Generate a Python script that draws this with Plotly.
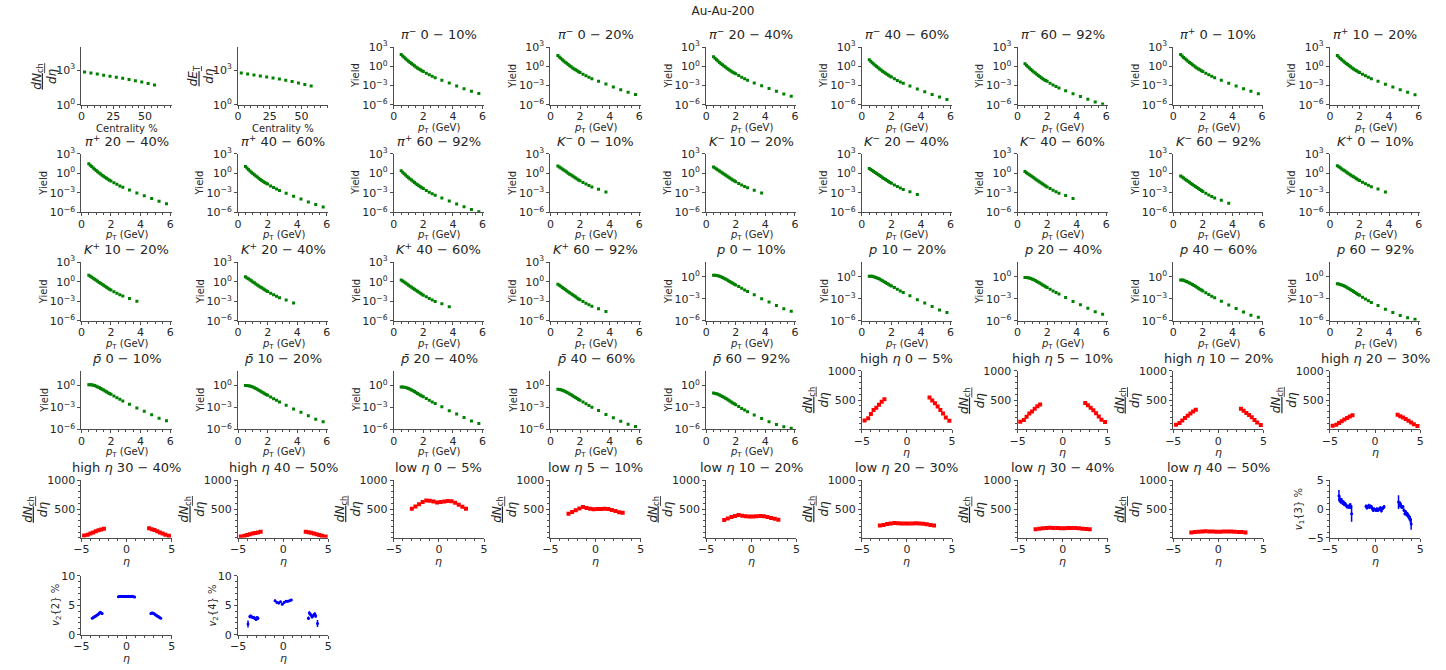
import plotly.graph_objects as go

# ---------------------------------------------------------------- data
centrality = [2.5, 7.5, 12.5, 17.5, 22.5, 27.5, 32.5, 37.5, 42.5, 47.5, 52.5, 57.5]
dnch_deta = [687, 560, 457, 372, 302, 246, 197, 156, 124, 95, 71, 52]
det_deta = [560, 470, 390, 320, 262, 211, 168, 132, 102, 78, 58, 42]

pt_pi = [0.5, 0.6, 0.7, 0.8, 0.9, 1.0, 1.1, 1.2, 1.3, 1.4, 1.5, 1.6, 1.7, 1.8, 1.9, 2.0,
         2.2, 2.4, 2.6, 2.8, 3.25, 3.75, 4.25, 4.75, 5.25, 5.75]
pt_k = [0.5, 0.6, 0.7, 0.8, 0.9, 1.0, 1.1, 1.2, 1.3, 1.4, 1.5, 1.6, 1.7, 1.8, 1.9, 2.0,
        2.2, 2.4, 2.6, 2.8, 3.25, 3.75]
pt_p = [0.5, 0.6, 0.7, 0.8, 0.9, 1.0, 1.1, 1.2, 1.3, 1.4, 1.5, 1.6, 1.7, 1.8, 1.9, 2.0,
        2.2, 2.4, 2.6, 2.8, 3.25, 3.75, 4.25, 4.75, 5.25, 5.75]

pim_0_10 = [71, 42, 25, 15.5, 9.8, 6.3, 4.1, 2.7, 1.8, 1.2, 0.81, 0.56, 0.40, 0.28, 0.21, 0.16,
            0.085, 0.048, 0.028, 0.017, 6.6e-3, 2.4e-3, 8.9e-4, 3.3e-4, 1.3e-4, 5.6e-5]
pim_10_20 = [50, 29, 17.5, 10.8, 6.9, 4.4, 2.9, 1.9, 1.26, 0.84, 0.57, 0.39, 0.28, 0.20, 0.147, 0.112,
             0.060, 0.034, 0.0196, 0.0119, 4.6e-3, 1.7e-3, 6.2e-4, 2.3e-4, 9.1e-5, 3.9e-5]
pim_20_40 = [30, 17.6, 10.5, 6.5, 4.1, 2.6, 1.7, 1.13, 0.76, 0.50, 0.34, 0.235, 0.168, 0.118, 0.088, 0.067,
             0.036, 0.020, 0.0116, 7.0e-3, 2.6e-3, 9.5e-4, 3.5e-4, 1.3e-4, 5.0e-5, 2.1e-5]
pim_40_60 = [10.6, 6.3, 3.75, 2.3, 1.45, 0.93, 0.60, 0.39, 0.26, 0.17, 0.115, 0.080, 0.056, 0.039, 0.029, 0.022,
             0.0115, 6.4e-3, 3.7e-3, 2.2e-3, 8.3e-4, 3.0e-4, 1.1e-4, 4.1e-5, 1.6e-5, 6.8e-6]
pim_60_92 = [2.5, 1.47, 0.87, 0.53, 0.33, 0.21, 0.135, 0.088, 0.058, 0.038, 0.025, 0.0172, 0.0120, 8.3e-3, 6.1e-3, 4.5e-3,
             2.3e-3, 1.27e-3, 7.2e-4, 4.2e-4, 1.55e-4, 5.5e-5, 2.0e-5, 7.3e-6, 2.8e-6, 1.3e-6]

pip_0_10 = [69, 41, 24.5, 15.2, 9.6, 6.2, 4.0, 2.65, 1.77, 1.18, 0.80, 0.55, 0.39, 0.28, 0.205, 0.155,
            0.083, 0.047, 0.0275, 0.0167, 6.5e-3, 2.35e-3, 8.7e-4, 3.2e-4, 1.25e-4, 5.3e-5]
pip_10_20 = [49, 28.5, 17.2, 10.6, 6.8, 4.3, 2.85, 1.86, 1.24, 0.83, 0.56, 0.385, 0.275, 0.196, 0.144, 0.11,
             0.059, 0.0335, 0.0193, 0.0117, 4.5e-3, 1.65e-3, 6.1e-4, 2.25e-4, 8.8e-5, 3.7e-5]
pip_20_40 = [29.5, 17.3, 10.3, 6.4, 4.0, 2.55, 1.67, 1.11, 0.75, 0.49, 0.335, 0.23, 0.165, 0.116, 0.086, 0.066,
             0.0355, 0.0197, 0.0114, 6.9e-3, 2.55e-3, 9.3e-4, 3.4e-4, 1.27e-4, 4.9e-5, 2.0e-5]
pip_40_60 = [10.4, 6.2, 3.7, 2.25, 1.43, 0.91, 0.59, 0.385, 0.255, 0.168, 0.113, 0.079, 0.055, 0.0385, 0.0285, 0.0217,
             0.0113, 6.3e-3, 3.65e-3, 2.15e-3, 8.1e-4, 2.95e-4, 1.08e-4, 4.0e-5, 1.55e-5, 6.5e-6]
pip_60_92 = [2.45, 1.44, 0.85, 0.52, 0.325, 0.205, 0.133, 0.087, 0.057, 0.0375, 0.0247, 0.017, 0.0118, 8.2e-3, 6.0e-3, 4.4e-3,
             2.25e-3, 1.25e-3, 7.1e-4, 4.1e-4, 1.52e-4, 5.4e-5, 1.95e-5, 7.1e-6, 2.7e-6, 1.25e-6]

km_0_10 = [12.6, 8.7, 6.2, 4.3, 3.0, 2.1, 1.48, 1.02, 0.72, 0.51, 0.36, 0.26, 0.18, 0.129, 0.093, 0.068,
           0.038, 0.022, 0.0129, 7.9e-3, 3.5e-3, 1.26e-3]
km_10_20 = [9.1, 6.3, 4.5, 3.1, 2.2, 1.5, 1.07, 0.73, 0.52, 0.37, 0.26, 0.19, 0.13, 0.093, 0.067, 0.049,
            0.027, 0.016, 9.3e-3, 5.7e-3, 2.5e-3, 9.1e-4]
km_20_40 = [5.3, 3.65, 2.6, 1.8, 1.26, 0.88, 0.62, 0.43, 0.30, 0.21, 0.15, 0.109, 0.076, 0.054, 0.039, 0.0285,
            0.016, 9.2e-3, 5.4e-3, 3.3e-3, 1.47e-3, 5.3e-4]
km_40_60 = [1.76, 1.2, 0.85, 0.58, 0.40, 0.28, 0.195, 0.133, 0.092, 0.064, 0.045, 0.032, 0.0222, 0.0156, 0.0111, 8.0e-3,
            4.4e-3, 2.5e-3, 1.45e-3, 8.8e-4, 3.8e-4, 1.35e-4]
km_60_92 = [0.38, 0.26, 0.18, 0.122, 0.084, 0.058, 0.040, 0.027, 0.0186, 0.0129, 9.0e-3, 6.3e-3, 4.4e-3, 3.05e-3, 2.15e-3, 1.54e-3,
            8.3e-4, 4.7e-4, 2.7e-4, 1.6e-4, 6.8e-5, 2.4e-5]

kp_0_10 = [13.6, 9.4, 6.7, 4.6, 3.2, 2.3, 1.6, 1.1, 0.78, 0.55, 0.39, 0.28, 0.195, 0.139, 0.10, 0.073,
           0.041, 0.024, 0.0139, 8.5e-3, 3.8e-3, 1.36e-3]
kp_10_20 = [9.8, 6.8, 4.9, 3.35, 2.4, 1.62, 1.16, 0.79, 0.56, 0.40, 0.28, 0.205, 0.14, 0.10, 0.072, 0.053,
            0.029, 0.017, 0.010, 6.2e-3, 2.7e-3, 9.8e-4]
kp_20_40 = [5.7, 3.9, 2.8, 1.95, 1.36, 0.95, 0.67, 0.46, 0.32, 0.23, 0.16, 0.118, 0.082, 0.058, 0.042, 0.031,
            0.0173, 9.9e-3, 5.8e-3, 3.6e-3, 1.6e-3, 5.7e-4]
kp_40_60 = [1.9, 1.3, 0.92, 0.63, 0.43, 0.30, 0.21, 0.144, 0.10, 0.069, 0.049, 0.0345, 0.024, 0.0168, 0.012, 8.6e-3,
            4.8e-3, 2.7e-3, 1.57e-3, 9.5e-4, 4.1e-4, 1.46e-4]
kp_60_92 = [0.41, 0.28, 0.195, 0.132, 0.091, 0.063, 0.043, 0.029, 0.020, 0.0139, 9.7e-3, 6.8e-3, 4.75e-3, 3.3e-3, 2.3e-3, 1.66e-3,
            9.0e-4, 5.1e-4, 2.9e-4, 1.73e-4, 7.3e-5, 2.6e-5]

p_0_10 = [1.66, 1.66, 1.58, 1.41, 1.23, 1.02, 0.83, 0.66, 0.51, 0.40, 0.30, 0.23, 0.174, 0.132, 0.100, 0.079,
          0.047, 0.0275, 0.0166, 0.010, 3.6e-3, 1.05e-3, 3.8e-4, 1.26e-4, 4.4e-5, 2.0e-5]
p_10_20 = [1.25, 1.25, 1.18, 1.05, 0.91, 0.76, 0.61, 0.49, 0.38, 0.295, 0.22, 0.17, 0.128, 0.097, 0.073, 0.058,
           0.034, 0.020, 0.012, 7.3e-3, 2.6e-3, 7.6e-4, 2.7e-4, 9.0e-5, 3.1e-5, 1.4e-5]
p_20_40 = [0.82, 0.81, 0.76, 0.67, 0.58, 0.48, 0.39, 0.31, 0.24, 0.185, 0.14, 0.106, 0.08, 0.06, 0.045, 0.036,
           0.021, 0.0122, 7.3e-3, 4.4e-3, 1.55e-3, 4.5e-4, 1.6e-4, 5.2e-5, 1.8e-5, 8.0e-6]
p_40_60 = [0.38, 0.36, 0.33, 0.28, 0.235, 0.19, 0.15, 0.117, 0.089, 0.068, 0.051, 0.038, 0.028, 0.021, 0.0155, 0.012,
           6.8e-3, 3.9e-3, 2.3e-3, 1.37e-3, 4.8e-4, 1.4e-4, 4.8e-5, 1.6e-5, 6.0e-6, 3.0e-6]
p_60_92 = [0.115, 0.105, 0.092, 0.078, 0.064, 0.051, 0.040, 0.031, 0.0235, 0.0178, 0.0133, 9.8e-3, 7.2e-3, 5.3e-3, 3.9e-3, 3.0e-3,
           1.68e-3, 9.5e-4, 5.5e-4, 3.2e-4, 1.2e-4, 3.8e-5, 1.4e-5, 5.5e-6, 2.6e-6, 1.6e-6]

pbar_0_10 = [1.25, 1.25, 1.19, 1.06, 0.92, 0.77, 0.62, 0.50, 0.38, 0.30, 0.225, 0.17, 0.13, 0.099, 0.075, 0.059,
             0.035, 0.0205, 0.0124, 7.5e-3, 2.7e-3, 7.9e-4, 2.9e-4, 9.5e-5, 3.3e-5, 1.5e-5]
pbar_10_20 = [0.94, 0.94, 0.89, 0.79, 0.69, 0.58, 0.47, 0.37, 0.29, 0.22, 0.167, 0.128, 0.097, 0.074, 0.056, 0.044,
              0.026, 0.0152, 9.1e-3, 5.5e-3, 2.0e-3, 5.8e-4, 2.1e-4, 6.9e-5, 2.4e-5, 1.1e-5]
pbar_20_40 = [0.62, 0.61, 0.57, 0.51, 0.44, 0.36, 0.29, 0.23, 0.18, 0.14, 0.105, 0.080, 0.060, 0.045, 0.034, 0.027,
              0.016, 9.2e-3, 5.5e-3, 3.3e-3, 1.2e-3, 3.4e-4, 1.2e-4, 4.0e-5, 1.4e-5, 6.2e-6]
pbar_40_60 = [0.29, 0.27, 0.25, 0.21, 0.18, 0.145, 0.114, 0.089, 0.068, 0.052, 0.039, 0.029, 0.0215, 0.016, 0.0118, 9.1e-3,
              5.2e-3, 3.0e-3, 1.75e-3, 1.04e-3, 3.7e-4, 1.1e-4, 3.7e-5, 1.25e-5, 4.8e-6, 2.4e-6]
pbar_60_92 = [0.088, 0.080, 0.070, 0.059, 0.049, 0.039, 0.030, 0.0235, 0.018, 0.0135, 0.0101, 7.5e-3, 5.5e-3, 4.0e-3, 3.0e-3, 2.3e-3,
              1.28e-3, 7.2e-4, 4.2e-4, 2.45e-4, 9.0e-5, 3.0e-5, 1.1e-5, 4.5e-6, 2.2e-6, 1.4e-6]

eta_high = [-4.7, -4.3, -4.0, -3.7, -3.4, -3.1, -2.8, -2.5, 2.5, 2.8, 3.1, 3.4, 3.7, 4.0, 4.3, 4.7]
high_0_5 = [150, 190, 260, 330, 370, 420, 470, 515, 545, 490, 445, 390, 330, 270, 200, 145]
high_5_10 = [128, 160, 215, 270, 305, 350, 395, 425, 450, 410, 370, 325, 275, 220, 165, 125]
high_10_20 = [80, 110, 150, 195, 230, 270, 305, 335, 350, 315, 280, 245, 205, 160, 115, 75]
high_20_30 = [60, 80, 110, 140, 170, 195, 220, 240, 250, 225, 200, 175, 145, 115, 85, 55]
high_30_40 = [40, 55, 75, 95, 115, 130, 145, 160, 165, 150, 135, 115, 95, 75, 55, 38]
high_40_50 = [25, 35, 48, 62, 75, 85, 95, 105, 108, 98, 88, 76, 62, 48, 35, 24]

eta_low = [-3.0, -2.6, -2.2, -1.8, -1.4, -1.0, -0.6, -0.2, 0.2, 0.6, 1.0, 1.4, 1.8, 2.2, 2.6, 3.0]
low_0_5 = [505, 545, 585, 620, 650, 645, 630, 615, 620, 630, 640, 635, 610, 575, 540, 505]
low_5_10 = [420, 450, 480, 510, 535, 520, 505, 495, 500, 500, 505, 500, 485, 465, 445, 435]
low_10_20 = [310, 335, 360, 380, 395, 385, 375, 370, 370, 375, 380, 375, 360, 345, 330, 315]
low_20_30 = [215, 225, 240, 250, 258, 255, 250, 247, 247, 250, 253, 250, 243, 235, 225, 215]
low_30_40 = [150, 158, 165, 170, 175, 173, 170, 168, 168, 170, 172, 170, 165, 160, 155, 148]
low_40_50 = [95, 100, 105, 110, 113, 112, 110, 108, 108, 110, 111, 110, 107, 103, 100, 95]

v1_eta = [-4.0, -3.9, -3.8, -3.7, -3.6, -3.5, -3.4, -3.3, -3.2, -3.1, -3.0, -2.9, -2.8, -2.7, -2.6,
          -1.0, -0.9, -0.8, -0.7, -0.6, -0.5, -0.4, -0.3, -0.2, -0.1, 0.0, 0.1, 0.2, 0.3, 0.4, 0.5, 0.6, 0.7, 0.8, 0.9, 1.0,
          2.6, 2.7, 2.8, 2.9, 3.0, 3.1, 3.2, 3.3, 3.4, 3.5, 3.6, 3.7, 3.8, 3.9, 4.0]
v1_3 = [2.3, 1.7, 1.4, 1.5, 1.1, 1.2, 0.8, 0.9, 0.6, 0.4, 0.5, 0.3, 0.6, 0.5, -0.8,
        0.5, 0.2, 0.4, 0.6, 0.3, 0.5, 0.4, 0.1, -0.2, 0.0, -0.1, -0.2, 0.0, -0.2, -0.1, 0.1, 0.2, -0.3, 0.1, 0.2, 0.4,
        1.2, 0.8, 0.9, 0.5, 0.3, 0.4, -0.2, -0.8, -0.5, -1.0, -0.9, -1.3, -1.5, -1.8, -2.6]
v1_3_err = [1.0, 0.6, 0.5, 0.4, 0.4, 0.3, 0.3, 0.3, 0.3, 0.3, 0.3, 0.3, 0.4, 0.5, 1.4,
            0.3, 0.3, 0.3, 0.3, 0.3, 0.3, 0.3, 0.3, 0.3, 0.3, 0.3, 0.3, 0.3, 0.3, 0.3, 0.3, 0.3, 0.3, 0.3, 0.3, 0.3,
            1.2, 0.5, 0.4, 0.4, 0.3, 0.3, 0.3, 0.3, 0.3, 0.3, 0.4, 0.4, 0.5, 0.6, 1.0]

v22_eta = [-3.8, -3.7, -3.6, -3.5, -3.4, -3.3, -3.2, -3.1, -3.0, -2.9, -2.8, -2.7,
           -0.9, -0.8, -0.7, -0.6, -0.5, -0.4, -0.3, -0.2, -0.1, 0.0, 0.1, 0.2, 0.3, 0.4, 0.5, 0.6, 0.7, 0.8, 0.9,
           2.7, 2.8, 2.9, 3.0, 3.1, 3.2, 3.3, 3.4, 3.5, 3.6, 3.7, 3.8]
v2_2 = [2.8, 2.9, 3.0, 3.1, 3.2, 3.3, 3.4, 3.5, 3.7, 3.8, 3.7, 3.6,
        6.45, 6.5, 6.5, 6.5, 6.55, 6.5, 6.5, 6.5, 6.5, 6.5, 6.5, 6.55, 6.5, 6.5, 6.5, 6.55, 6.5, 6.45, 6.4,
        3.6, 3.7, 3.7, 3.6, 3.5, 3.4, 3.3, 3.2, 3.1, 3.0, 2.9, 2.8]
v2_2_err = [0.15] * 43

v24_eta = [-3.9, -3.7, -3.6, -3.5, -3.4, -3.3, -3.2, -3.1, -3.0, -2.9, -2.8,
           -0.9, -0.7, -0.5, -0.3, -0.1, 0.1, 0.3, 0.5, 0.7, 0.9,
           2.8, 2.9, 3.0, 3.1, 3.2, 3.3, 3.4, 3.5, 3.6, 3.8]
v2_4 = [1.8, 3.1, 3.2, 3.0, 3.0, 2.9, 2.9, 2.7, 2.6, 2.9, 2.8,
        5.8, 5.5, 5.4, 5.6, 5.2, 5.5, 5.7, 5.7, 5.8, 5.9,
        2.8, 3.7, 3.5, 3.3, 3.0, 3.2, 3.4, 3.5, 3.2, 1.9]
v2_4_err = [0.6, 0.3, 0.2, 0.2, 0.2, 0.2, 0.2, 0.2, 0.2, 0.3, 0.3,
            0.2, 0.2, 0.2, 0.2, 0.2, 0.2, 0.2, 0.2, 0.2, 0.2,
            0.3, 0.3, 0.2, 0.2, 0.2, 0.2, 0.2, 0.3, 0.3, 0.6]

# ---------------------------------------------------------------- panels
def t(sym, cent):
    a, b = cent
    return f"{sym} {a} − {b}%"

PIM = "<i>π</i><sup>−</sup>"
PIP = "<i>π</i><sup>+</sup>"
KM = "<i>K</i><sup>−</sup>"
KP = "<i>K</i><sup>+</sup>"
PR = "<i>p</i>"
PB = "<i>p̄</i>"
HE = "high <i>η</i>"
LE = "low <i>η</i>"

panels = [
    ("cent", None, centrality, dnch_deta, None, "nch"),
    ("cent", None, centrality, det_deta, None, "et"),
    ("yield", t(PIM, (0, 10)), pt_pi, pim_0_10, None, None),
    ("yield", t(PIM, (0, 20)), pt_pi, pim_10_20, None, None),
    ("yield", t(PIM, (20, 40)), pt_pi, pim_20_40, None, None),
    ("yield", t(PIM, (40, 60)), pt_pi, pim_40_60, None, None),
    ("yield", t(PIM, (60, 92)), pt_pi, pim_60_92, None, None),
    ("yield", t(PIP, (0, 10)), pt_pi, pip_0_10, None, None),
    ("yield", t(PIP, (10, 20)), pt_pi, pip_10_20, None, None),
    ("yield", t(PIP, (20, 40)), pt_pi, pip_20_40, None, None),
    ("yield", t(PIP, (40, 60)), pt_pi, pip_40_60, None, None),
    ("yield", t(PIP, (60, 92)), pt_pi, pip_60_92, None, None),
    ("yield", t(KM, (0, 10)), pt_k, km_0_10, None, None),
    ("yield", t(KM, (10, 20)), pt_k, km_10_20, None, None),
    ("yield", t(KM, (20, 40)), pt_k, km_20_40, None, None),
    ("yield", t(KM, (40, 60)), pt_k, km_40_60, None, None),
    ("yield", t(KM, (60, 92)), pt_k, km_60_92, None, None),
    ("yield", t(KP, (0, 10)), pt_k, kp_0_10, None, None),
    ("yield", t(KP, (10, 20)), pt_k, kp_10_20, None, None),
    ("yield", t(KP, (20, 40)), pt_k, kp_20_40, None, None),
    ("yield", t(KP, (40, 60)), pt_k, kp_40_60, None, None),
    ("yield", t(KP, (60, 92)), pt_k, kp_60_92, None, None),
    ("yieldp", t(PR, (0, 10)), pt_p, p_0_10, None, None),
    ("yieldp", t(PR, (10, 20)), pt_p, p_10_20, None, None),
    ("yieldp", t(PR, (20, 40)), pt_p, p_20_40, None, None),
    ("yieldp", t(PR, (40, 60)), pt_p, p_40_60, None, None),
    ("yieldp", t(PR, (60, 92)), pt_p, p_60_92, None, None),
    ("yieldp", t(PB, (0, 10)), pt_p, pbar_0_10, None, None),
    ("yieldp", t(PB, (10, 20)), pt_p, pbar_10_20, None, None),
    ("yieldp", t(PB, (20, 40)), pt_p, pbar_20_40, None, None),
    ("yieldp", t(PB, (40, 60)), pt_p, pbar_40_60, None, None),
    ("yieldp", t(PB, (60, 92)), pt_p, pbar_60_92, None, None),
    ("eta", t(HE, (0, 5)), eta_high, high_0_5, None, None),
    ("eta", t(HE, (5, 10)), eta_high, high_5_10, None, None),
    ("eta", t(HE, (10, 20)), eta_high, high_10_20, None, None),
    ("eta", t(HE, (20, 30)), eta_high, high_20_30, None, None),
    ("eta", t(HE, (30, 40)), eta_high, high_30_40, None, None),
    ("eta", t(HE, (40, 50)), eta_high, high_40_50, None, None),
    ("eta", t(LE, (0, 5)), eta_low, low_0_5, None, None),
    ("eta", t(LE, (5, 10)), eta_low, low_5_10, None, None),
    ("eta", t(LE, (10, 20)), eta_low, low_10_20, None, None),
    ("eta", t(LE, (20, 30)), eta_low, low_20_30, None, None),
    ("eta", t(LE, (30, 40)), eta_low, low_30_40, None, None),
    ("eta", t(LE, (40, 50)), eta_low, low_40_50, None, None),
    ("v1", None, v1_eta, v1_3, v1_3_err, None),
    ("v2", None, v22_eta, v2_2, v2_2_err, "2"),
    ("v2", None, v24_eta, v2_4, v2_4_err, "4"),
]

# ---------------------------------------------------------------- layout geometry
W, H = 1446, 670
COL_LEFT = [74, 232, 389, 547, 704, 861, 1018, 1175, 1333]
PW = 91
ROW_TOP = [40, 149, 260, 371, 483, 581]
ROW_BOT = [99, 209, 320, 431, 542, 641]

FONT = "DejaVu Sans"
TXT = "#262626"
LINE = "#4d4d4d"
GREEN = "#008000"
RED = "#ff0000"
BLUE = "#0000ff"
TICK_SIZE = 11
LAB_SIZE = 11


def frac(num, den):
    return f"<span style='text-decoration:underline'>{num}</span><br>{den}"


fig = go.Figure()
annotations = []
layout = dict(
    width=W, height=H, margin=dict(l=0, r=0, t=0, b=0),
    paper_bgcolor="white", plot_bgcolor="white", showlegend=False,
    font=dict(family=FONT, color=TXT, size=10),
    title=dict(text="Au-Au-200", x=0.5, xanchor="center", y=1 - 11 / H, yanchor="middle",
               font=dict(family=FONT, size=12, color=TXT)),
)


def base_axis():
    return dict(showline=True, linecolor=LINE, linewidth=1, mirror=False,
                ticks="outside", ticklen=3, tickwidth=1, tickcolor=LINE,
                showgrid=False, zeroline=False, fixedrange=True,
                tickfont=dict(family=FONT, size=TICK_SIZE, color=TXT))


def minor(d):
    return dict(ticks="outside", ticklen=2, dtick=d, tick0=0, tickcolor=LINE)


def add_text(text, xpx, ypx, size, angle=0):
    annotations.append(dict(text=text, xref="paper", yref="paper",
                            x=xpx / W, y=1 - ypx / H, xanchor="center", yanchor="middle",
                            showarrow=False, textangle=angle,
                            font=dict(family=FONT, size=size, color=TXT)))


ETA_X = dict(range=[-5, 5], tickvals=[-5, 0, 5], minor=minor(1), ticklabelstandoff=-2)
FRAC_NCH = frac("<i>dN</i><sub>ch</sub>", "<i>dη</i>")
FRAC_ET = frac("<i>dE</i><sub>T</sub>", "<i>dη</i>")
XT = 24  # distance of x-axis label centre below the axis line

for k, (kind, title, xs, ys, err, extra) in enumerate(panels):
    i = k + 1
    r, c = divmod(k, 9)
    left, right = COL_LEFT[c], COL_LEFT[c] + PW
    top, bot = ROW_TOP[r], ROW_BOT[r]
    midx, midy = (left + right) / 2, (top + bot) / 2
    xa = base_axis()
    ya = base_axis()
    xa.update(domain=[left / W, right / W], anchor=f"y{i}")
    ya.update(domain=[1 - bot / H, 1 - top / H], anchor=f"x{i}")
    color = GREEN
    msize = 3
    if kind == "cent":
        xa.update(range=[0, 71], tickvals=[0, 25, 50], minor=minor(5), ticklabelstandoff=-2)
        ya.update(type="log", range=[0, 5], tickvals=[1, 1000],
                  ticktext=["10<sup>0</sup>", "10<sup>3</sup>"])
        add_text("Centrality %", midx, bot + XT, LAB_SIZE - 1)
        add_text(FRAC_NCH if extra == "nch" else FRAC_ET, left - 37, midy, 12, -90)
    elif kind in ("yield", "yieldp"):
        xa.update(range=[0, 6.1], tickvals=[0, 2, 4, 6], minor=minor(0.5), ticklabelstandoff=-2)
        if kind == "yield":
            ya.update(type="log", range=[-6, 3], tickvals=[1e-6, 1e-3, 1, 1e3],
                      ticktext=["10<sup>−6</sup>", "10<sup>−3</sup>", "10<sup>0</sup>", "10<sup>3</sup>"])
        else:
            ya.update(type="log", range=[-6, 2], tickvals=[1e-6, 1e-3, 1],
                      ticktext=["10<sup>−6</sup>", "10<sup>−3</sup>", "10<sup>0</sup>"])
        add_text("<i>p</i><sub>T</sub> (GeV)", midx, bot + XT, LAB_SIZE - 1)
        add_text("Yield", left - 38, midy, LAB_SIZE - 1, -90)
    elif kind == "eta":
        color = RED
        msize = 4
        xa.update(**ETA_X)
        ya.update(range=[0, 1000], tickvals=[500, 1000], minor=minor(100))
        add_text("<i>η</i>", midx, bot + XT, LAB_SIZE)
        add_text(FRAC_NCH, left - 46, midy, 12, -90)
    elif kind == "v1":
        color = BLUE
        xa.update(**ETA_X)
        ya.update(range=[-5, 5], tickvals=[-5, 0, 5], minor=minor(1))
        add_text("<i>η</i>", midx, bot + XT, LAB_SIZE)
        add_text("<i>v</i><sub>1</sub>{3} %", left - 31, midy, LAB_SIZE - 1, -90)
    elif kind == "v2":
        color = BLUE
        xa.update(**ETA_X)
        ya.update(range=[0, 10], tickvals=[0, 5, 10], minor=minor(1))
        add_text("<i>η</i>", midx, bot + XT, LAB_SIZE)
        add_text(f"<i>v</i><sub>2</sub>{{{extra}}} %", left - 25, midy, LAB_SIZE - 1, -90)

    key = "" if i == 1 else str(i)
    layout[f"xaxis{key}"] = xa
    layout[f"yaxis{key}"] = ya

    tr = dict(x=xs, y=ys, mode="markers", xaxis=f"x{i}", yaxis=f"y{i}",
              marker=dict(symbol="square", size=msize, color=color, line=dict(width=0)),
              hoverinfo="skip")
    if err is not None:
        tr["error_y"] = dict(type="data", array=err, visible=True, color=color, thickness=1.5, width=0)
        tr["marker"]["symbol"] = "circle"
    fig.add_trace(go.Scatter(**tr))

    if title:
        annotations.append(dict(
            text=title, xref="paper", yref="paper",
            x=midx / W, y=1 - (top - 3) / H,
            xanchor="center", yanchor="bottom", showarrow=False,
            font=dict(family=FONT, size=13, color=TXT)))

layout["annotations"] = annotations
fig.update_layout(**layout)
fig.write_html("out.html")
